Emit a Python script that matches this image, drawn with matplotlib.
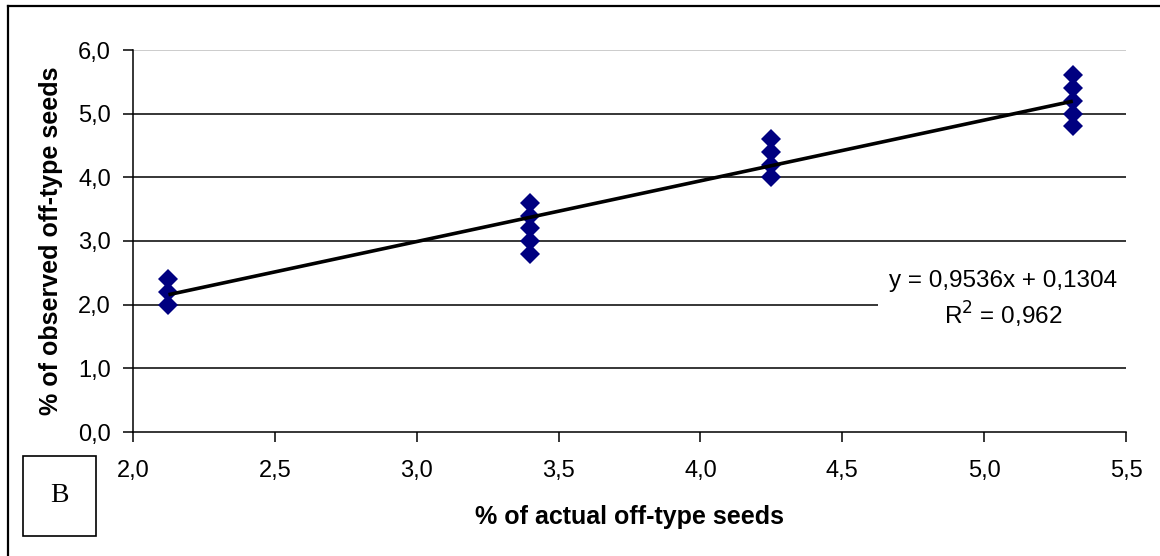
import matplotlib
matplotlib.use("Agg")
import matplotlib.pyplot as plt
from matplotlib.ticker import FuncFormatter, MultipleLocator
from matplotlib.lines import Line2D
from matplotlib.patches import Rectangle
import numpy as np

# data
x_actual = [2.125, 2.125, 2.125,
            3.4, 3.4, 3.4, 3.4, 3.4,
            4.25, 4.25, 4.25, 4.25,
            5.3125, 5.3125, 5.3125, 5.3125, 5.3125]
y_observed = [2.0, 2.2, 2.4,
              2.8, 3.0, 3.2, 3.4, 3.6,
              4.0, 4.2, 4.4, 4.6,
              4.8, 5.0, 5.2, 5.4, 5.6]
slope = 0.9536
intercept = 0.1304
r_squared = 0.962
panel_label = "B"

plt.rcParams['font.family'] = ['Liberation Sans', 'DejaVu Sans']

fig = plt.figure(figsize=(11.6, 5.56), dpi=100)
ax = fig.add_axes([133/1160, 1 - 432/556, (1126 - 133)/1160, (432 - 50)/556])

# gridlines
for yv in [1, 2, 3, 4, 5]:
    ax.axhline(yv, color='black', lw=1.1, zorder=1)
ax.axhline(6, color='#c8c8c8', lw=1.3, zorder=1)

ax.plot(x_actual, y_observed, linestyle='none', marker='D', ms=9.8,
        color='#000080', markeredgewidth=0, zorder=3)

xl = np.array([min(x_actual), max(x_actual)])
ax.plot(xl, slope * xl + intercept, color='black', lw=2.6, zorder=4,
        solid_capstyle='butt')

ax.set_xlim(2.0, 5.5)
ax.set_ylim(0.0, 6.0)
ax.xaxis.set_major_locator(MultipleLocator(0.5))
ax.yaxis.set_major_locator(MultipleLocator(1.0))
fmt = FuncFormatter(lambda v, p: ("%.1f" % v).replace('.', ','))
ax.xaxis.set_major_formatter(fmt)
ax.yaxis.set_major_formatter(fmt)

for s in ['top', 'right']:
    ax.spines[s].set_visible(False)
for s in ['left', 'bottom']:
    ax.spines[s].set_linewidth(1.1)
ax.tick_params(direction='out', length=7, width=1.1, labelsize=17)
ax.tick_params(axis='x', pad=13)
ax.tick_params(axis='y', pad=9)

ax.set_xlabel("% of actual off-type seeds", fontsize=18, fontweight='bold', labelpad=17)
ax.set_ylabel("% of observed off-type seeds", fontsize=18, fontweight='bold', labelpad=11)

eq = ("y = %s" % ("%.4fx + %.4f" % (slope, intercept)).replace('.', ',')) + "\n" + \
     "R$^2$ = " + ("%.3f" % r_squared).replace('.', ',')
ax.text(1003, 556 - 300, eq, transform=None, fontsize=17.5, ha='center', va='center',
        linespacing=1.35, zorder=5,
        bbox=dict(facecolor='white', edgecolor='none', pad=8))

# outer frame (left and top edges)
fig.add_artist(Line2D([8/1160, 8/1160], [0, 1 - 6/556], transform=fig.transFigure,
                      color='black', lw=1.6))
fig.add_artist(Line2D([8/1160, 1], [1 - 6/556, 1 - 6/556], transform=fig.transFigure,
                      color='black', lw=1.6))

# panel label box
fig.add_artist(Rectangle((23/1160, 1 - 536/556), 73/1160, 80/556,
                         transform=fig.transFigure, facecolor='white',
                         edgecolor='black', lw=1.2))
fig.text(59.5/1160, 1 - 496/556, panel_label, fontsize=20, ha='center', va='center',
         family=['Liberation Serif', 'DejaVu Serif'])

fig.savefig("out.png", dpi=100)
